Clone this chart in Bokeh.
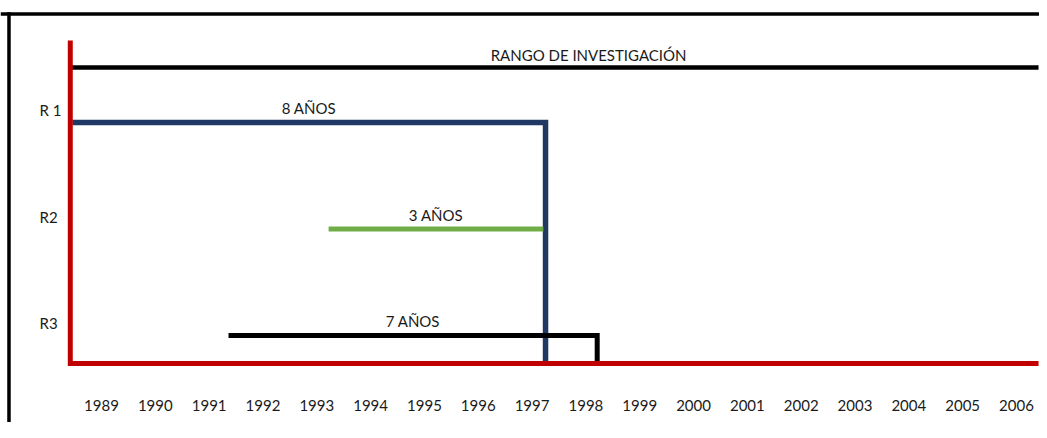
from bokeh.plotting import figure
from bokeh.models import Range1d
from bokeh.core.properties import value
from bokeh.embed import file_html
from bokeh.resources import INLINE

# ---- data ----
years = list(range(1989, 2007))
year_labels = [str(y) for y in years]
rows = ["R 1", "R2", "R3"]
row_level = [3, 2, 1]
starts = [1988.46, 1993.22, 1991.36]
ends = [1997.25, 1997.21, 1998.21]
durations = ["8 AÑOS", "3 AÑOS", "7 AÑOS"]
drops = [True, False, True]
colors = ["#1f3864", "#70ad47", "#000000"]
widths = [5.5, 5, 5]
range_label = "RANGO DE INVESTIGACIÓN"
range_start = 1988.42
range_end = 2006.41

# ---- layout constants (data units) ----
X0, X1 = 1987.1234, 2006.428
Y0, Y1 = 0.1831, 4.1455
base_y = 0.737        # red horizontal axis
axis_top = 3.77       # top of red vertical axis
range_y = 3.516       # research range line
range_label_x = 1998.05
row_label_x = 1987.85
border_top = 4.0187
border_left = 1987.281

FONT = value("Lato")
TXT = "#1a1a1a"

p = figure(width=1039, height=422, x_range=Range1d(X0, X1), y_range=Range1d(Y0, Y1),
           x_axis_location=None, y_axis_location=None, min_border=0,
           toolbar_location=None, output_backend="svg", tools="")
p.grid.visible = False
p.outline_line_color = None
p.background_fill_color = "white"
p.border_fill_color = "white"

# frame border (top & left)
p.line([X0, X1], [border_top, border_top], line_color="black", line_width=3.5)
p.line([border_left, border_left], [border_top + 0.016, Y0], line_color="black", line_width=3.5)

# research range
p.line([range_start, range_end], [range_y, range_y], line_color="black", line_width=4.5)
p.text([range_label_x], [range_y], text=[range_label], text_align="center",
       text_baseline="middle", y_offset=-13, text_font=FONT, text_font_size="15px",
       text_color=TXT)

# row intervals
for lvl, s, e, d, c, w in zip(row_level, starts, ends, drops, colors, widths):
    xs = [s, e, e] if d else [s, e]
    ys = [lvl, lvl, base_y] if d else [lvl, lvl]
    p.line(xs, ys, line_color=c, line_width=w, line_join="miter")

mids = [(s + e) / 2 for s, e in zip(starts, ends)]
p.text(mids, row_level, text=durations, text_align="center", text_baseline="middle",
       y_offset=-14, text_font=FONT, text_font_size="15px", text_color=TXT)

# row labels
p.text([row_label_x] * len(rows), row_level, text=rows, text_align="left",
       text_baseline="middle", y_offset=-12, text_font=FONT, text_font_size="15px",
       text_color=TXT)

# red axes
p.line([range_start, range_start, range_end], [axis_top, base_y, base_y],
       line_color="#c00000", line_width=5, line_join="miter")

# year labels
p.text(years, [base_y] * len(years), text=year_labels, text_align="center",
       text_baseline="middle", y_offset=42, text_font=FONT, text_font_size="15px",
       text_color=TXT)

open("out.html", "w").write(file_html(p, INLINE))
